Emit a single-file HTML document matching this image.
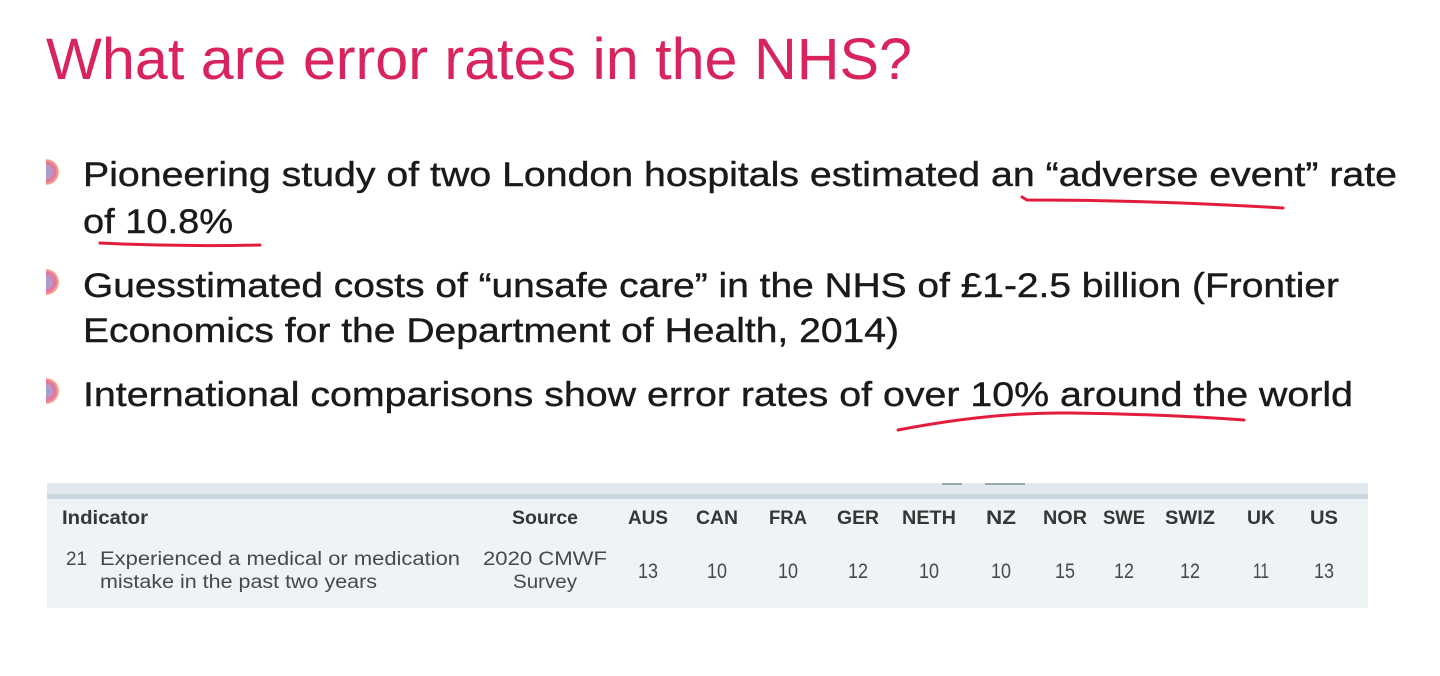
<!DOCTYPE html>
<html><head><meta charset="utf-8"><style>
html,body{margin:0;padding:0;background:#fff;}
svg{display:block;}
</style></head><body>
<svg width="1440" height="676" viewBox="0 0 1440 676" xmlns="http://www.w3.org/2000/svg">
<defs>
<radialGradient id="bg" cx="46" cy="0" r="14" gradientUnits="userSpaceOnUse">
<stop offset="0" stop-color="#97a4d8"/><stop offset="0.4" stop-color="#b898c8"/><stop offset="0.68" stop-color="#e8709a"/><stop offset="1" stop-color="#f7cf86"/>
</radialGradient>
</defs>
<rect width="1440" height="676" fill="#fff"/>
<text x="46" y="79" font-family="Liberation Sans, Arial, sans-serif" font-size="58" fill="#d8235c" textLength="866" lengthAdjust="spacingAndGlyphs">What are error rates in the NHS?</text>

<g font-family="Liberation Sans, Arial, sans-serif" font-size="34" fill="#1a1a1a" stroke="#1a1a1a" stroke-width="0.4">
<text x="83" y="186" textLength="1314" lengthAdjust="spacingAndGlyphs">Pioneering study of two London hospitals estimated an “adverse event” rate</text>
<text x="83" y="233" textLength="150" lengthAdjust="spacingAndGlyphs">of 10.8%</text>
<text x="83" y="297" textLength="1256" lengthAdjust="spacingAndGlyphs">Guesstimated costs of “unsafe care” in the NHS of £1-2.5 billion (Frontier</text>
<text x="83" y="342" textLength="816" lengthAdjust="spacingAndGlyphs">Economics for the Department of Health, 2014)</text>
<text x="83" y="406" textLength="1270" lengthAdjust="spacingAndGlyphs">International comparisons show error rates of over 10% around the world</text>
</g>

<g>
<g transform="translate(0,172)"><path d="M46,-13 A13,13 0 0 1 46,13 Z" fill="url(#bg)"/></g>
<g transform="translate(0,282)"><path d="M46,-13 A13,13 0 0 1 46,13 Z" fill="url(#bg)"/></g>
<g transform="translate(0,391)"><path d="M46,-13 A13,13 0 0 1 46,13 Z" fill="url(#bg)"/></g>
</g>

<g fill="none" stroke="#e21d3c" stroke-width="3" stroke-linecap="round">
<path d="M100,243 Q180,247 260,245"/>
<path d="M1022,197 L1027,200 Q1150,200 1283,208"/>
<path d="M898,430 Q990,412 1070,413 Q1160,414 1244,420"/>
</g>

<!-- table -->
<rect x="47" y="483" width="1321" height="125" fill="#eef3f6"/>
<rect x="47" y="483" width="1321" height="11" fill="#e1e9ef"/>
<rect x="47" y="494" width="1321" height="5" fill="#c9d8e0"/>
<g fill="#9aa6ae"><rect x="942" y="483" width="20" height="2"/><rect x="985" y="483" width="40" height="2"/></g>

<g font-family="Liberation Sans, Arial, sans-serif" font-weight="bold" font-size="19" fill="#363636" text-anchor="middle">
<text x="105" y="524" textLength="86" lengthAdjust="spacingAndGlyphs">Indicator</text>
<text x="545" y="524" textLength="66" lengthAdjust="spacingAndGlyphs">Source</text>
<text x="648" y="524" textLength="40" lengthAdjust="spacingAndGlyphs">AUS</text>
<text x="717" y="524" textLength="42" lengthAdjust="spacingAndGlyphs">CAN</text>
<text x="788" y="524" textLength="38" lengthAdjust="spacingAndGlyphs">FRA</text>
<text x="858" y="524" textLength="42" lengthAdjust="spacingAndGlyphs">GER</text>
<text x="929" y="524" textLength="54" lengthAdjust="spacingAndGlyphs">NETH</text>
<text x="1001" y="524" textLength="30" lengthAdjust="spacingAndGlyphs">NZ</text>
<text x="1065" y="524" textLength="44" lengthAdjust="spacingAndGlyphs">NOR</text>
<text x="1124" y="524" textLength="42" lengthAdjust="spacingAndGlyphs">SWE</text>
<text x="1190" y="524" textLength="50" lengthAdjust="spacingAndGlyphs">SWIZ</text>
<text x="1261" y="524" textLength="28" lengthAdjust="spacingAndGlyphs">UK</text>
<text x="1324" y="524" textLength="28" lengthAdjust="spacingAndGlyphs">US</text>
</g>

<g font-family="Liberation Sans, Arial, sans-serif" font-size="19" fill="#484848">
<text x="66" y="565" textLength="21" lengthAdjust="spacingAndGlyphs">21</text>
<text x="100" y="565" textLength="360" lengthAdjust="spacingAndGlyphs">Experienced a medical or medication</text>
<text x="100" y="588" textLength="277" lengthAdjust="spacingAndGlyphs">mistake in the past two years</text>
</g>
<g font-family="Liberation Sans, Arial, sans-serif" font-size="19" fill="#484848" text-anchor="middle">
<text x="545" y="565" textLength="124" lengthAdjust="spacingAndGlyphs">2020 CMWF</text>
<text x="545" y="588" textLength="64" lengthAdjust="spacingAndGlyphs">Survey</text>
</g>
<g font-family="Liberation Sans, Arial, sans-serif" font-size="21" fill="#484848" text-anchor="middle">
<text x="648" y="578" textLength="20" lengthAdjust="spacingAndGlyphs">13</text>
<text x="717" y="578" textLength="20" lengthAdjust="spacingAndGlyphs">10</text>
<text x="788" y="578" textLength="20" lengthAdjust="spacingAndGlyphs">10</text>
<text x="858" y="578" textLength="20" lengthAdjust="spacingAndGlyphs">12</text>
<text x="929" y="578" textLength="20" lengthAdjust="spacingAndGlyphs">10</text>
<text x="1001" y="578" textLength="20" lengthAdjust="spacingAndGlyphs">10</text>
<text x="1065" y="578" textLength="20" lengthAdjust="spacingAndGlyphs">15</text>
<text x="1124" y="578" textLength="20" lengthAdjust="spacingAndGlyphs">12</text>
<text x="1190" y="578" textLength="20" lengthAdjust="spacingAndGlyphs">12</text>
<text x="1261" y="578" textLength="16" lengthAdjust="spacingAndGlyphs">11</text>
<text x="1324" y="578" textLength="20" lengthAdjust="spacingAndGlyphs">13</text>
</g>
</svg>
</body></html>
